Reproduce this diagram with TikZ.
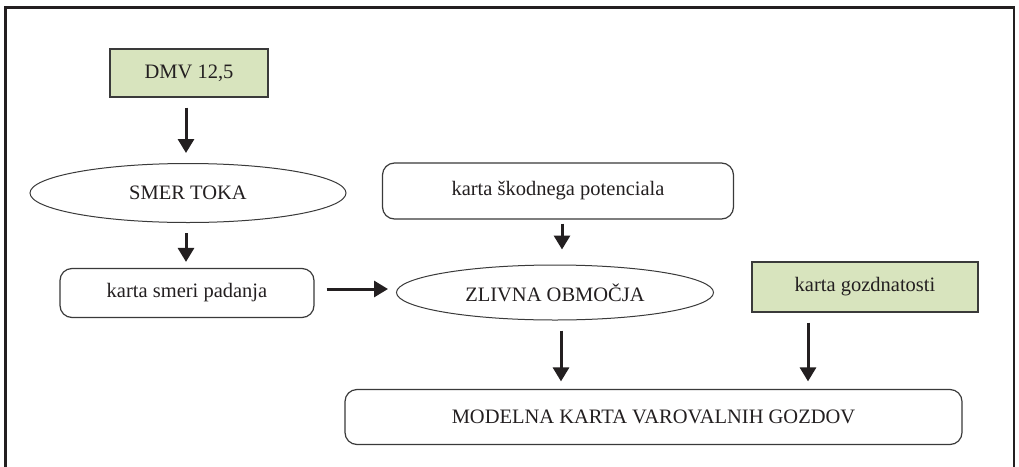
\documentclass[tikz,border=0pt]{standalone}
\usepackage{fontspec}
\setmainfont{Liberation Serif}
\usetikzlibrary{shapes.geometric,arrows.meta,calc}
\definecolor{txt}{HTML}{231F20}
\definecolor{bord}{HTML}{3A3A3A}
\definecolor{boxgreen}{HTML}{D8E4BE}
\begin{document}
\begin{tikzpicture}[x=1pt,y=-1pt,
  every node/.style={font=\fontsize{20.5}{24}\selectfont, text=txt, inner sep=0pt},
  greenbox/.style={draw=bord, line width=1.2pt, fill=boxgreen},
  roundbox/.style={draw=bord, line width=1.2pt, rounded corners=12pt},
  oval/.style={draw=bord, line width=1pt, ellipse},
  arr/.style={line width=3pt, draw=txt, -{Triangle[width=16pt,length=14pt]}}]
\useasboundingbox (0,0) rectangle (1019,466);
\fill[white] (0,0) rectangle (1019,466);
\draw[line width=2.5pt, draw=txt] (5.5,480) -- (5.5,7.5) -- (1014,7.5) -- (1014,480);

\node[greenbox, minimum width=158pt, minimum height=48pt] (dmv) at (189,73) {DMV 12,5};
\node[oval, minimum width=316pt, minimum height=59pt] (st) at (188,193) {SMER TOKA};
\node[roundbox, minimum width=254pt, minimum height=49pt] (ksp) at (187,293) {karta smeri padanja};
\node[roundbox, minimum width=351pt, minimum height=56pt] (ksk) at (558,191) {karta škodnega potenciala};
\node[oval, minimum width=317pt, minimum height=55pt] (zo) at (555,292.5) {ZLIVNA OBMOČJA};
\node[greenbox, minimum width=226pt, minimum height=50pt] (kg) at (865,287) {karta gozdnatosti};
\node[roundbox, minimum width=617pt, minimum height=55pt] (mk) at (653.5,417) {MODELNA KARTA VAROVALNIH GOZDOV};

\draw[arr, shorten <=10pt, shorten >=10pt] ([xshift=-3pt]dmv.south) -- ([xshift=-3pt]dmv.south |- st.north);
\draw[arr, shorten <=10pt, shorten >=6pt] ([xshift=-2pt]st.south) -- ([xshift=-2pt]st.south |- ksp.north);
\draw[arr, shorten <=12pt, shorten >=8pt] ([yshift=4pt]ksp.east) -- ([yshift=4pt]ksp.east -| zo.west);
\draw[arr, shorten <=4pt, shorten >=15pt] ([xshift=4pt]ksk.south) -- ([xshift=4pt]ksk.south |- zo.north);
\draw[arr, shorten <=10pt, shorten >=7.5pt] ([xshift=6pt]zo.south) -- ([xshift=6pt]zo.south |- mk.north);
\draw[arr, shorten <=10pt, shorten >=7.5pt] ([xshift=-57pt]kg.south) -- ([xshift=-57pt]kg.south |- mk.north);
\end{tikzpicture}
\end{document}
